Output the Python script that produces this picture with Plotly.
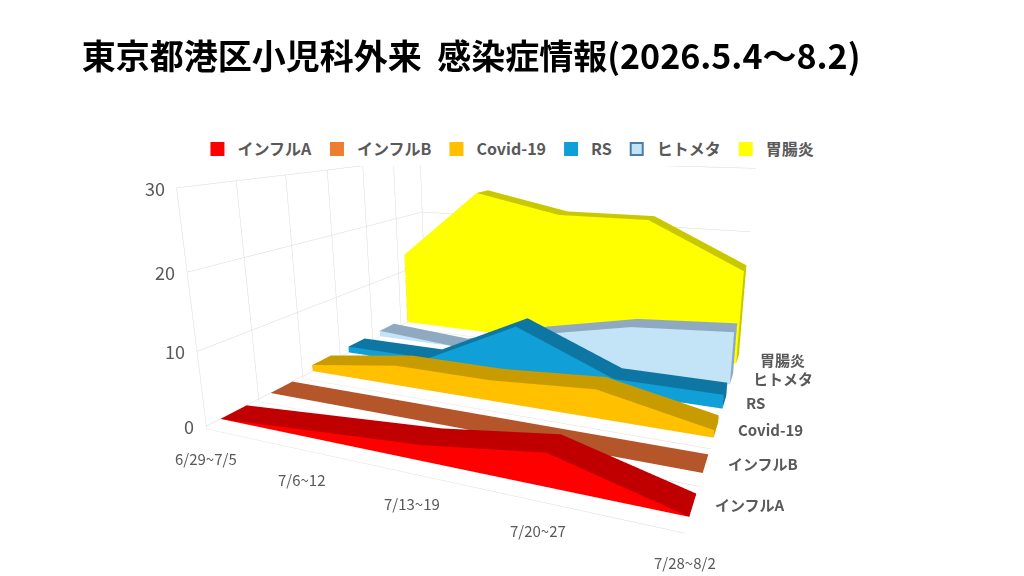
import plotly.graph_objects as go

# 週ごとのカテゴリ
weeks = ['6/29~7/5', '7/6~12', '7/13~19', '7/20~27', '7/28~8/2']

# 系列（手前から奥へ）
series = ['インフルA', 'インフルB', 'Covid-19', 'RS', 'ヒトメタ', '胃腸炎']

# 値（グラフから読み取った概算）
influ_a = [0, 1, 2, 4, 0]
influ_b = [0, 0, 0, 0, 0]
covid = [1, 3, 3, 4, 1]
rs = [1, 1, 8, 2, 2]
hmpv = [1, 0, 4, 7, 8]
gastro = [13, 25, 22, 22, 15]

values = [influ_a, influ_b, covid, rs, hmpv, gastro]

z_ticks = [0, 10, 20, 30]

# 前面色 / 上面色 / 凡例の色
front_colors = ['#FF0000', '#C55A28', '#FFC000', '#109FD6', '#C3E4F7', '#FFFF00']
top_colors = ['#C00000', '#B4552A', '#C89B00', '#0E76A3', '#8FA9C0', '#C8C800']
legend_colors = ['#FF0000', '#ED7D31', '#FFC000', '#0F9ED5', '#C3E4F7', '#FFFF00']
legend_lines = ['#FF0000', '#ED7D31', '#FFC000', '#0F9ED5', '#4A7DA8', '#FFFF00']

depth = 0.5  # 系列の奥行き


def ribbon(vals, k, front, top):
    # 1系列分の立体エリア（前面・背面・上面・両端）
    y0 = k - depth / 2
    y1 = k + depth / 2
    xs, ys, zs = [], [], []
    for i, v in enumerate(vals):
        xs += [i, i, i, i]
        ys += [y0, y0, y1, y1]
        zs += [0, v, 0, v]
    ii, jj, kk, fc = [], [], [], []

    def tri(a, b, c, col):
        ii.append(a)
        jj.append(b)
        kk.append(c)
        fc.append(col)

    for i in range(len(vals) - 1):
        a = 4 * i
        b = 4 * (i + 1)
        # 前面
        tri(a, a + 1, b + 1, front)
        tri(a, b + 1, b, front)
        # 背面
        tri(a + 2, a + 3, b + 3, front)
        tri(a + 2, b + 3, b + 2, front)
        # 上面
        tri(a + 1, b + 1, b + 3, top)
        tri(a + 1, b + 3, a + 3, top)
    # 両端
    for a in [0, 4 * (len(vals) - 1)]:
        tri(a, a + 1, a + 3, top)
        tri(a, a + 3, a + 2, top)
    return go.Mesh3d(
        x=xs, y=ys, z=zs, i=ii, j=jj, k=kk,
        facecolor=fc, flatshading=True,
        lighting=dict(ambient=1, diffuse=0, specular=0, roughness=1, fresnel=0),
        hoverinfo='skip', showlegend=False,
    )


fig = go.Figure()

for k, vals in enumerate(values):
    fig.add_trace(ribbon(vals, k, front_colors[k], top_colors[k]))

# 凡例用のダミー
for k, name in enumerate(series):
    fig.add_trace(go.Scatter3d(
        x=[None], y=[None], z=[None], mode='markers', name=name,
        marker=dict(symbol='square', size=10, color=legend_colors[k],
                    line=dict(color=legend_lines[k], width=1)),
    ))

tick_font = dict(size=15, color='#595959')
labels = []
# 系列名
for k, name in enumerate(series):
    labels.append(dict(x=len(weeks) - 1, y=k, z=0, text=name, showarrow=False,
                       xanchor='left', xshift=20, yshift=0,
                       font=dict(size=15, color='#595959', weight=600)))
# 週ラベル
for i, w in enumerate(weeks):
    labels.append(dict(x=i, y=-0.5, z=0, text=w, showarrow=False,
                       yanchor='top', yshift=-20, font=tick_font))
# 縦軸ラベル
for v in z_ticks:
    labels.append(dict(x=0, y=-0.5, z=v, text=str(v), showarrow=False,
                       xanchor='right', xshift=-10, font=dict(size=18, color='#595959')))

axis_common = dict(
    showbackground=True, backgroundcolor='white',
    gridcolor='#D9D9D9', gridwidth=1,
    showline=False, zeroline=False, showspikes=False,
    showticklabels=False, ticks='',
    title=dict(text=''),
)

fig.update_layout(
    width=1024, height=576,
    paper_bgcolor='white',
    font=dict(family='Noto Sans CJK JP', color='#595959'),
    title=dict(
        text='東京都港区小児科外来  感染症情報(2026.5.4～8.2)',
        x=0.072, xanchor='left', y=0.915, yanchor='middle',
        font=dict(size=34, color='black', weight=700),
    ),
    legend=dict(
        orientation='h', x=0.185, y=0.755, xanchor='left', yanchor='middle',
        font=dict(size=16, color='#595959', weight=600),
        itemsizing='constant',
    ),
    margin=dict(l=0, r=0, t=0, b=0),
    scene=dict(
        domain=dict(x=[0, 1], y=[0, 1]),
        xaxis=dict(axis_common, tickvals=list(range(len(weeks))),
                   range=[0, len(weeks) - 1], showgrid=False),
        yaxis=dict(axis_common, tickvals=[k - 0.5 for k in range(len(series) + 1)],
                   range=[-0.5, len(series) - 0.5]),
        zaxis=dict(axis_common, tickvals=z_ticks, range=[-0.4, 30]),
        aspectmode='manual',
        aspectratio=dict(x=1.972, y=1.835, z=1.0),
        camera=dict(eye=dict(x=1.230, y=-2.892, z=0.778),
                    center=dict(x=0.229, y=-0.434, z=0.077)),
        annotations=labels,
    ),
)

fig.write_html('out.html')
